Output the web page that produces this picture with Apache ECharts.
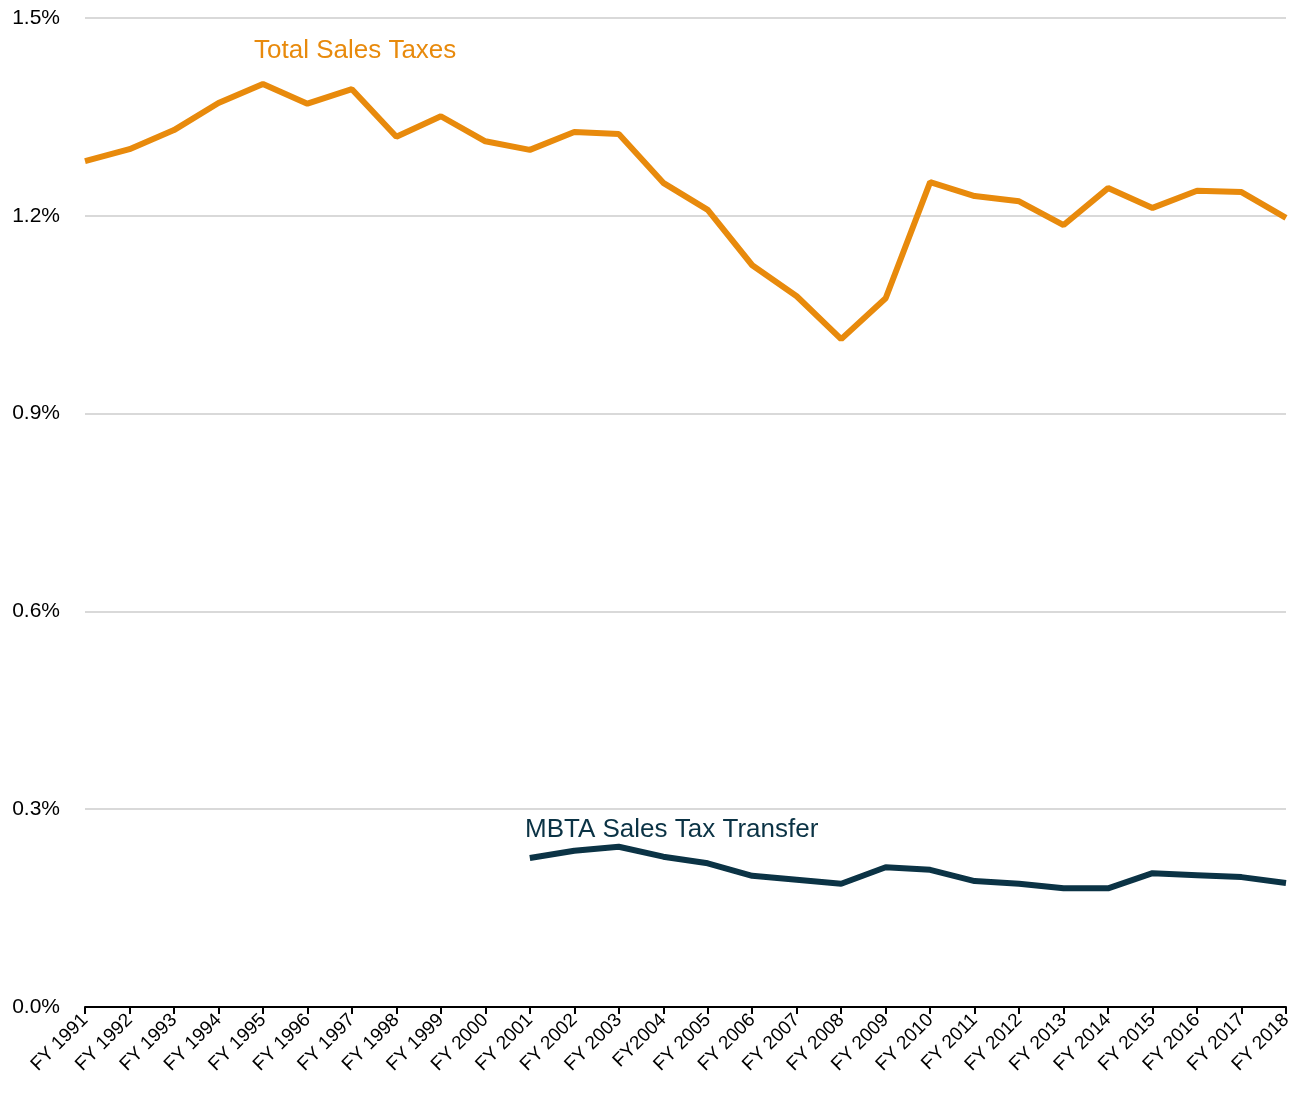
<!DOCTYPE html>
<html>
<head>
<meta charset="utf-8">
<script src="https://cdn.jsdelivr.net/npm/echarts@6/dist/echarts.min.js"></script>
<style>
  html, body { margin: 0; padding: 0; background: #fff; }
  #chart { width: 1296px; height: 1096px; }
</style>
</head>
<body>
<div id="chart"></div>
<script>
const years = [
  "FY 1991", "FY 1992", "FY 1993", "FY 1994", "FY 1995", "FY 1996", "FY 1997",
  "FY 1998", "FY 1999", "FY 2000", "FY 2001", "FY 2002", "FY 2003", "FY2004",
  "FY 2005", "FY 2006", "FY 2007", "FY 2008", "FY 2009", "FY 2010", "FY 2011",
  "FY 2012", "FY 2013", "FY 2014", "FY 2015", "FY 2016", "FY 2017", "FY 2018"
];

// percent of personal income
const totalSalesTaxes = [
  1.283, 1.301, 1.330, 1.371, 1.400, 1.370, 1.392,
  1.320, 1.351, 1.313, 1.300, 1.327, 1.324, 1.250,
  1.209, 1.125, 1.078, 1.013, 1.075, 1.251, 1.230,
  1.222, 1.186, 1.242, 1.212, 1.238, 1.236, 1.197
];

const mbtaTransfer = [
  null, null, null, null, null, null, null,
  null, null, null, 0.226, 0.237, 0.243, 0.228,
  0.218, 0.199, 0.193, 0.187, 0.212, 0.208, 0.191,
  0.187, 0.180, 0.180, 0.203, 0.200, 0.197, 0.188
];

const orange = "#E88A0C";
const navy = "#0B3345";
const font = "Liberation Sans";

const chart = echarts.init(document.getElementById("chart"));

chart.setOption({
  animation: false,
  textStyle: { fontFamily: font },
  grid: { left: 85, right: 10, top: 18, bottom: 89 },
  xAxis: {
    type: "category",
    data: years,
    boundaryGap: false,
    axisLine: { lineStyle: { color: "#000", width: 2 } },
    axisTick: { alignWithLabel: true, length: 7, lineStyle: { color: "#000", width: 2 } },
    axisLabel: {
      interval: 0,
      rotate: 45,
      color: "#000",
      fontSize: 19,
      margin: 10
    }
  },
  yAxis: {
    type: "value",
    min: 0,
    max: 1.5,
    interval: 0.3,
    axisLine: { show: false },
    axisTick: { show: false },
    splitLine: { lineStyle: { color: "#d9d9d9", width: 2 } },
    axisLabel: {
      color: "#000",
      fontSize: 21,
      margin: 25,
      formatter: v => v.toFixed(1) + "%"
    }
  },
  series: [
    {
      name: "Total Sales Taxes",
      type: "line",
      data: totalSalesTaxes,
      symbol: "none",
      lineStyle: { color: orange, width: 6 }
    },
    {
      name: "MBTA Sales Tax Transfer",
      type: "line",
      data: mbtaTransfer,
      symbol: "none",
      lineStyle: { color: navy, width: 6 }
    }
  ],
  graphic: [
    {
      type: "text",
      x: 254,
      y: 51,
      style: { text: "Total Sales Taxes", fill: orange, font: "26px " + font, verticalAlign: "middle" }
    },
    {
      type: "text",
      x: 525,
      y: 830,
      style: { text: "MBTA Sales Tax Transfer", fill: navy, font: "26px " + font, verticalAlign: "middle" }
    }
  ]
});
</script>
</body>
</html>
